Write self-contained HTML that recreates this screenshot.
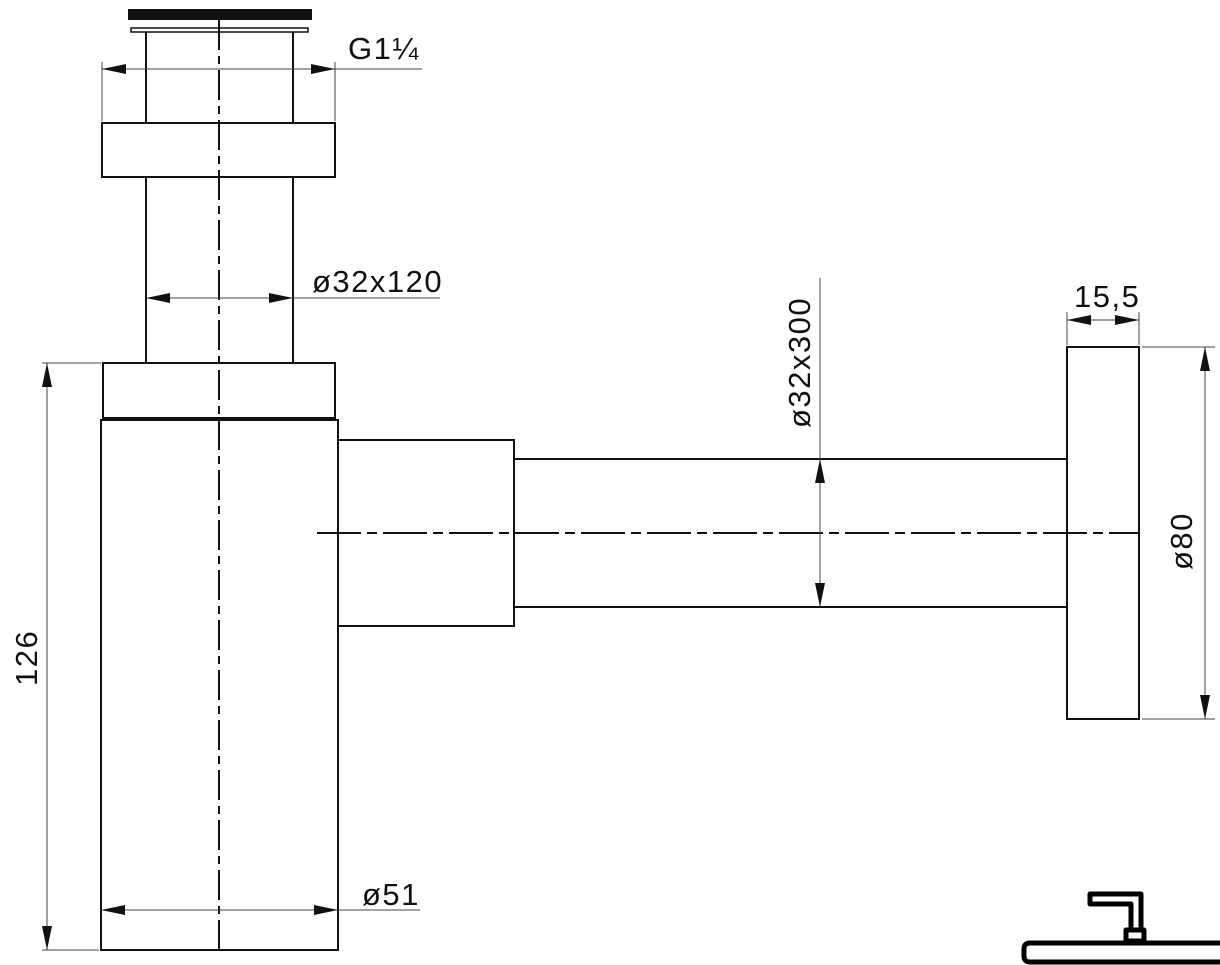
<!DOCTYPE html>
<html><head><meta charset="utf-8"><style>
html,body{margin:0;padding:0;background:#fff;width:1220px;height:965px;overflow:hidden}
svg{display:block}
text{font-family:"Liberation Sans",sans-serif;fill:#111;letter-spacing:1.5px}
</style></head><body>
<svg width="1220" height="965" viewBox="0 0 1220 965" xmlns="http://www.w3.org/2000/svg">
<g fill="none" stroke="#111" stroke-width="2">
<rect x="129" y="10" width="182" height="9" fill="#111"/>
<rect x="131" y="28" width="177" height="4" stroke-width="1.5"/>
<line x1="146" y1="32" x2="146" y2="123"/><line x1="293" y1="32" x2="293" y2="123"/>
<rect x="102" y="123" width="233" height="54"/>
<line x1="146" y1="177" x2="146" y2="363"/><line x1="293" y1="177" x2="293" y2="363"/>
<rect x="103" y="363" width="232" height="55"/>
<rect x="101" y="420" width="237" height="530"/>
<rect x="338" y="440" width="176" height="186"/>
<line x1="514" y1="459" x2="1067" y2="459"/><line x1="514" y1="607" x2="1067" y2="607"/>
<rect x="1067" y="347" width="72" height="372"/>
</g>
<g stroke="#111" stroke-width="2" fill="none">
<line x1="219" y1="20" x2="219" y2="950" stroke-dasharray="30,6,8,6"/>
<line x1="317" y1="533" x2="1140" y2="533" stroke-dasharray="44,6,10,6"/>
</g>
<g stroke="#444" stroke-width="1" fill="none">
<line x1="102" y1="62" x2="102" y2="121"/><line x1="335" y1="62" x2="335" y2="121"/>
<line x1="102" y1="69" x2="422" y2="69"/>
<line x1="146" y1="298" x2="440" y2="298"/>
<line x1="42" y1="363" x2="101" y2="363"/><line x1="42" y1="950" x2="99" y2="950"/>
<line x1="47" y1="363" x2="47" y2="950"/>
<line x1="101" y1="910" x2="420" y2="910"/>
<line x1="820" y1="278" x2="820" y2="607"/>
<line x1="1067" y1="312" x2="1067" y2="345"/><line x1="1139" y1="312" x2="1139" y2="345"/>
<line x1="1067" y1="320" x2="1139" y2="320"/>
<line x1="1142" y1="347" x2="1215" y2="347"/><line x1="1142" y1="719" x2="1215" y2="719"/>
<line x1="1205" y1="347" x2="1205" y2="719"/>
</g>
<g fill="#111">
<polygon points="102,69 126,64 126,74"/><polygon points="335,69 311,64 311,74"/>
<polygon points="146,298 170,293 170,303"/><polygon points="293,298 269,293 269,303"/>
<polygon points="47,363 42,387 52,387"/><polygon points="47,950 42,926 52,926"/>
<polygon points="101,910 125,905 125,915"/><polygon points="338,910 314,905 314,915"/>
<polygon points="820,459 815,483 825,483"/><polygon points="820,607 815,583 825,583"/>
<polygon points="1067,320 1091,315 1091,325"/><polygon points="1139,320 1115,315 1115,325"/>
<polygon points="1205,347 1200,371 1210,371"/><polygon points="1205,719 1200,695 1210,695"/>
</g>
<g font-size="31">
<text x="348" y="59">G1¼</text>
<text x="312" y="292">ø32x120</text>
<text x="362" y="905">ø51</text>
<text x="1074" y="307">15,5</text>
<text transform="translate(37,686) rotate(-90)">126</text>
<text transform="translate(810,428) rotate(-90)">ø32x300</text>
<text transform="translate(1192,570) rotate(-90)">ø80</text>
</g>
<g fill="none" stroke="#000" stroke-width="5" stroke-linejoin="round">
<path d="M1141,928 V894 H1090 V904 H1131 V928"/>
<rect x="1126" y="930" width="18" height="11"/>
<path d="M1228,943 H1030 Q1024,943 1024,949 V956 Q1024,962 1030,962 H1228"/>
</g>
</svg>
</body></html>
